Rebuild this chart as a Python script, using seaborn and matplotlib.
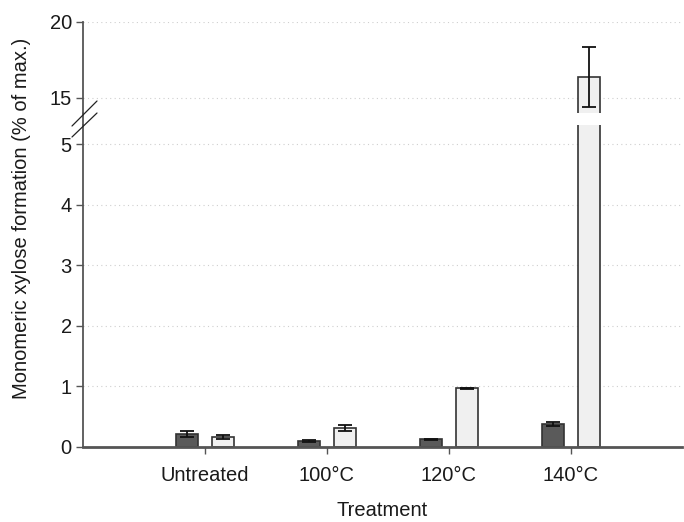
import pandas as pd
import seaborn as sns
import matplotlib.pyplot as plt
from matplotlib.lines import Line2D

# Dados
treatments = ['Untreated', '100°C', '120°C', '140°C']
series = ['Series 1', 'Series 2']
dark_vals = [0.22, 0.10, 0.13, 0.38]
dark_err = [0.05, 0.01, 0.01, 0.035]
light_vals = [0.17, 0.32, 0.97, 16.38]
light_err = [0.035, 0.05, 0.005, 2.0]
lower_ticks = [0, 1, 2, 3, 4, 5]
upper_ticks = [15, 20]

df = pd.DataFrame({
    'Treatment': treatments * 2,
    'Serie': [series[0]] * 4 + [series[1]] * 4,
    'Value': dark_vals + light_vals,
})
errs = dark_err + light_err

sns.set_style('white')
plt.rcParams['font.family'] = ['Liberation Sans', 'DejaVu Sans']
fs = 14.5

fig = plt.figure(figsize=(6.84, 5.22), dpi=100)
ax_top = fig.add_axes([0.1213, 0.7835, 0.8757, 0.1744])
ax_bot = fig.add_axes([0.1213, 0.1437, 0.8757, 0.6168])

spine_col = '#555555'
palette = {series[0]: '#5a5a5a', series[1]: '#f0f0f0'}

for ax in (ax_top, ax_bot):
    sns.barplot(data=df, x='Treatment', y='Value', hue='Serie', order=treatments,
                hue_order=series, palette=palette, width=0.59, gap=0.39,
                edgecolor='#333333', linewidth=1.2, errorbar=None, legend=False,
                ax=ax, zorder=2)
    # barras de erro nos centros das barras
    for patch, err in zip(ax.patches, errs):
        xc = patch.get_x() + patch.get_width() / 2
        ax.errorbar(xc, patch.get_height(), yerr=err, color='#111111',
                    elinewidth=1.3, capsize=5, capthick=1.3, zorder=3)
    ax.set_xlim(-1.0, 3.91)
    ax.grid(axis='y', linestyle=(0, (1, 3)), color='#cfcfcf', linewidth=0.8, zorder=0)
    ax.set_axisbelow(True)
    for s in ['top', 'right']:
        ax.spines[s].set_visible(False)
    ax.spines['left'].set_color(spine_col)
    ax.spines['left'].set_linewidth(1.3)
    ax.tick_params(axis='y', direction='out', length=5, width=1, color=spine_col,
                   labelsize=fs, labelcolor='#1a1a1a', pad=3, left=True)
    ax.set_ylabel('')

ax_top.set_ylim(14.0, 20.0)
ax_top.set_yticks(upper_ticks)
ax_top.spines['bottom'].set_visible(False)
ax_top.tick_params(axis='x', bottom=False, labelbottom=False)
ax_top.set_xlabel('')

ax_bot.set_ylim(0, 5.32)
ax_bot.set_yticks(lower_ticks)
ax_bot.spines['bottom'].set_color(spine_col)
ax_bot.spines['bottom'].set_linewidth(2)
ax_bot.tick_params(axis='x', direction='out', length=5, width=1, color=spine_col,
                   labelsize=fs, labelcolor='#1a1a1a', pad=9, bottom=True)
ax_bot.set_xlabel('Treatment', fontsize=fs, color='#1a1a1a', labelpad=11)

# ligação do eixo e marcas de quebra
W, H = 684, 522
def fx(px):
    return px / W
def fy(py):
    return 1 - py / H
fig.add_artist(Line2D([fx(83), fx(83)], [fy(113), fy(125)], color=spine_col, lw=1.3))
fig.add_artist(Line2D([fx(72), fx(97)], [fy(126), fy(101)], color='#222222', lw=0.9))
fig.add_artist(Line2D([fx(72), fx(97)], [fy(137), fy(113)], color='#222222', lw=0.9))

fig.text(fx(22), fy(218), 'Monomeric xylose formation (% of max.)', rotation=90,
         ha='center', va='center', fontsize=fs, color='#1a1a1a')

plt.savefig('out.png', dpi=100)
